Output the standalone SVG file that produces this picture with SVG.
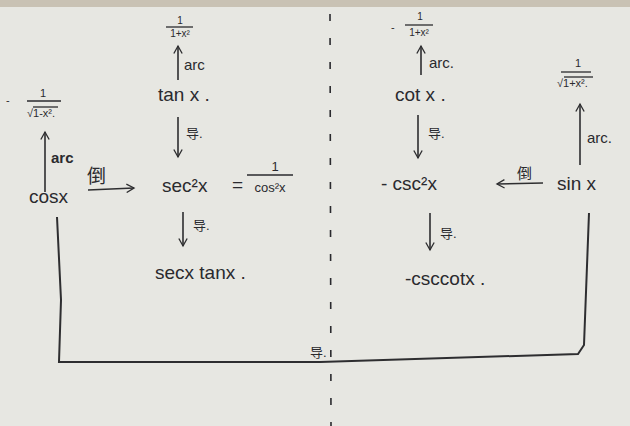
<svg xmlns="http://www.w3.org/2000/svg" width="630" height="426" viewBox="0 0 630 426">
<defs>
<marker id="ah" viewBox="0 0 12 12" refX="10" refY="6" markerWidth="10" markerHeight="10" markerUnits="userSpaceOnUse" orient="auto">
<path d="M1,1 L10,6 L1,11" fill="none" stroke="#2e2e30" stroke-width="1.6"/>
</marker>
</defs>
<style>
text{font-family:"Liberation Sans","Noto Sans CJK SC",sans-serif;fill:#2a2a2e}
.m{font-size:19px}
.s{font-size:10px}
.f{font-size:11px}
.l{font-size:15px}
.c{font-size:13px}
.bar{stroke:#2a2a2e;stroke-width:1.3}
.arr{stroke:#2e2e30;stroke-width:1.6;fill:none;marker-end:url(#ah)}
.ln{stroke:#2e2e30;stroke-width:2;fill:none}
</style>
<rect width="630" height="426" fill="#e7e7e2"/>
<rect width="630" height="7" fill="#c9c2b4"/>

<g id="separator">
<line x1="330" y1="14" x2="331" y2="426" stroke="#2a2a2e" stroke-width="1.6" stroke-dasharray="7,17"/>
</g>

<g id="connectors">
<line class="arr" x1="178" y1="80" x2="178" y2="46"/>
<text class="l" x="184" y="70">arc</text>
<line class="arr" x1="178" y1="117" x2="178" y2="157"/>
<text class="c" x="186" y="138">导.</text>
<line class="arr" x1="183" y1="212" x2="183" y2="246"/>
<text class="c" x="193" y="230">导.</text>

<line class="arr" x1="45" y1="192" x2="45" y2="132"/>
<text class="l" x="51" y="163" font-weight="bold">arc</text>
<line class="arr" x1="88" y1="190" x2="134" y2="188"/>
<text class="m" x="87" y="183" font-size="18">倒</text>

<line class="arr" x1="421" y1="75" x2="421" y2="46"/>
<text class="l" x="429" y="68">arc.</text>
<line class="arr" x1="418" y1="115" x2="418" y2="158"/>
<text class="c" x="428" y="138">导.</text>
<line class="arr" x1="430" y1="213" x2="430" y2="250"/>
<text class="c" x="440" y="238">导.</text>

<line class="arr" x1="543" y1="183" x2="497" y2="184"/>
<text class="l" x="517" y="179">倒</text>
<line class="arr" x1="580" y1="165" x2="580" y2="104"/>
<text class="l" x="587" y="143">arc.</text>

<path class="ln" d="M57,217 L61,300 L59,362 L320,362 L578,354 L584,345 L589,213"/>
<text class="c" x="310" y="357">导.</text>
</g>

<g id="tan-arc">
<text class="s" x="180" y="24" text-anchor="middle">1</text>
<line class="bar" x1="166" y1="27" x2="193" y2="27"/>
<text class="s" x="180" y="37" text-anchor="middle">1+x²</text>
</g>
<g id="tan"><text class="m" x="158" y="101">tan x .</text></g>
<g id="sec2">
<text class="m" x="162" y="192">sec²x</text>
<text class="m" x="232" y="191">=</text>
<text class="c" x="275" y="171" text-anchor="middle">1</text>
<line class="bar" x1="247" y1="175" x2="293" y2="175"/>
<text class="c" x="270" y="192" text-anchor="middle">cos²x</text>
</g>
<g id="sectan"><text class="m" x="155" y="279">secx tanx .</text></g>

<g id="cos-arc">
<text class="f" x="6" y="104">-</text>
<text class="f" x="43" y="97" text-anchor="middle">1</text>
<line class="bar" x1="27" y1="101" x2="61" y2="101"/>
<text class="f" x="27" y="117">√1-x².</text>
<line class="bar" x1="33" y1="107" x2="58" y2="107" stroke-width="1"/>
</g>
<g id="cos"><text class="m" x="29" y="203" font-size="17">cosx</text></g>

<g id="cot-arc">
<text class="f" x="391" y="31">-</text>
<text class="s" x="420" y="20" text-anchor="middle">1</text>
<line class="bar" x1="405" y1="25" x2="433" y2="25"/>
<text class="s" x="419" y="36" text-anchor="middle">1+x²</text>
</g>
<g id="cot"><text class="m" x="395" y="101">cot x .</text></g>
<g id="csc2"><text class="m" x="381" y="190">-  csc²x</text></g>
<g id="csccot"><text class="m" x="405" y="285">-csccotx .</text></g>

<g id="sin-arc">
<text class="f" x="578" y="67" text-anchor="middle">1</text>
<line class="bar" x1="561" y1="72" x2="591" y2="72"/>
<text class="f" x="557" y="87">√1+x².</text>
<line class="bar" x1="564" y1="77" x2="593" y2="77" stroke-width="1"/>
</g>
<g id="sin"><text class="m" x="557" y="190" font-size="17">sin x</text></g>
</svg>
